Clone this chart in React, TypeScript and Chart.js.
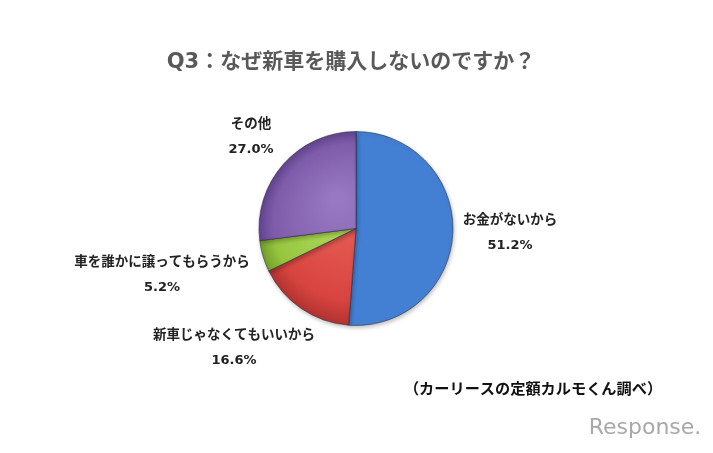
import React, { useEffect, useRef } from "react";
import { Chart, registerables } from "chart.js";

Chart.register(...registerables);

const categories = ["お金がないから", "新車じゃなくてもいいから", "車を誰かに譲ってもらうから", "その他"];
const values = [51.2, 16.6, 5.2, 27.0];
const percentLabels = ["51.2%", "16.6%", "5.2%", "27.0%"];
const titleText = "Q3：なぜ新車を購入しないのですか？";
const sourceText = "（カーリースの定額カルモくん調べ）";
const logoText = "Response.";

const baseColors = ["#4380d4", "#d8443f", "#96c63e", "#7e5ca9"];
const lightColors = ["#5e98e6", "#ea625b", "#b2dc60", "#9878c2"];
const darkColors = ["#2f62ab", "#b13330", "#73a02b", "#634590"];
// label anchor offsets relative to pie centre (layout only)
const labelOffsets = [
  [154, -10],
  [-122, 105],
  [-194, 32],
  [-105, -106],
];

const FONT = "'DejaVu Sans', 'Noto Sans CJK JP', sans-serif";

const textPlugin = {
  id: "textPlugin",
  afterDraw(chart: any) {
    const ctx = chart.ctx;
    const meta = chart.getDatasetMeta(0);
    const arc = meta.data[0];
    const cx = arc.x;
    const cy = arc.y;
    ctx.save();
    ctx.textAlign = "center";
    ctx.textBaseline = "middle";
    // title
    ctx.fillStyle = "#595959";
    ctx.font = "bold 21px " + FONT;
    ctx.fillText(titleText, 351, 63);
    // labels
    ctx.fillStyle = "#222222";
    categories.forEach((c, i) => {
      const [dx, dy] = labelOffsets[i];
      ctx.font = "bold 13.5px 'Noto Sans CJK JP', sans-serif";
      ctx.fillText(c, cx + dx, cy + dy);
      ctx.font = "bold 13px " + FONT;
      ctx.fillText(percentLabels[i], cx + dx, cy + dy + 27);
    });
    // source
    ctx.fillStyle = "#111111";
    ctx.font = "bold 15.2px 'Noto Sans CJK JP', sans-serif";
    ctx.fillText(sourceText, 533, 388);
    // logo
    ctx.fillStyle = "#a8a8a8";
    ctx.font = "22px 'DejaVu Sans', sans-serif";
    ctx.fillText(logoText, 645, 428);
    ctx.restore();
  },
};

const shadowPlugin = {
  id: "shadowPlugin",
  beforeDatasetsDraw(chart: any) {
    const ctx = chart.ctx;
    ctx.save();
    ctx.shadowColor = "rgba(0,0,0,0.25)";
    ctx.shadowBlur = 4;
    ctx.shadowOffsetX = 1;
    ctx.shadowOffsetY = 2;
  },
  afterDatasetsDraw(chart: any) {
    chart.ctx.restore();
  },
};

export default function App() {
  const ref = useRef<HTMLCanvasElement>(null);
  useEffect(() => {
    document.body.style.margin = "0";
    const canvas = ref.current!;
    const chart = new Chart(canvas, {
      type: "pie",
      data: {
        labels: categories,
        datasets: [
          {
            data: values,
            backgroundColor: (ctx: any) => {
              const i = ctx.dataIndex;
              const a = ctx.chart.getDatasetMeta(0).data[0];
              if (!a || !a.outerRadius) return baseColors[i];
              const g = ctx.chart.ctx.createRadialGradient(a.x - 20, a.y - 30, 5, a.x, a.y, a.outerRadius);
              g.addColorStop(0, lightColors[i]);
              g.addColorStop(0.8, baseColors[i]);
              g.addColorStop(1, darkColors[i]);
              return g;
            },
            borderColor: "rgba(40,40,60,0.55)",
            borderWidth: 1,
          },
        ],
      },
      options: {
        animation: false,
        responsive: false,
        layout: { padding: { left: 258, right: 259, top: 131, bottom: 127 } },
        plugins: {
          legend: { display: false },
          tooltip: { enabled: false },
        },
      },
      plugins: [shadowPlugin, textPlugin],
    });
    return () => chart.destroy();
  }, []);
  return (
    <div style={{ width: 713, height: 453, background: "#fff" }}>
      <canvas ref={ref} width={713} height={453} />
    </div>
  );
}
